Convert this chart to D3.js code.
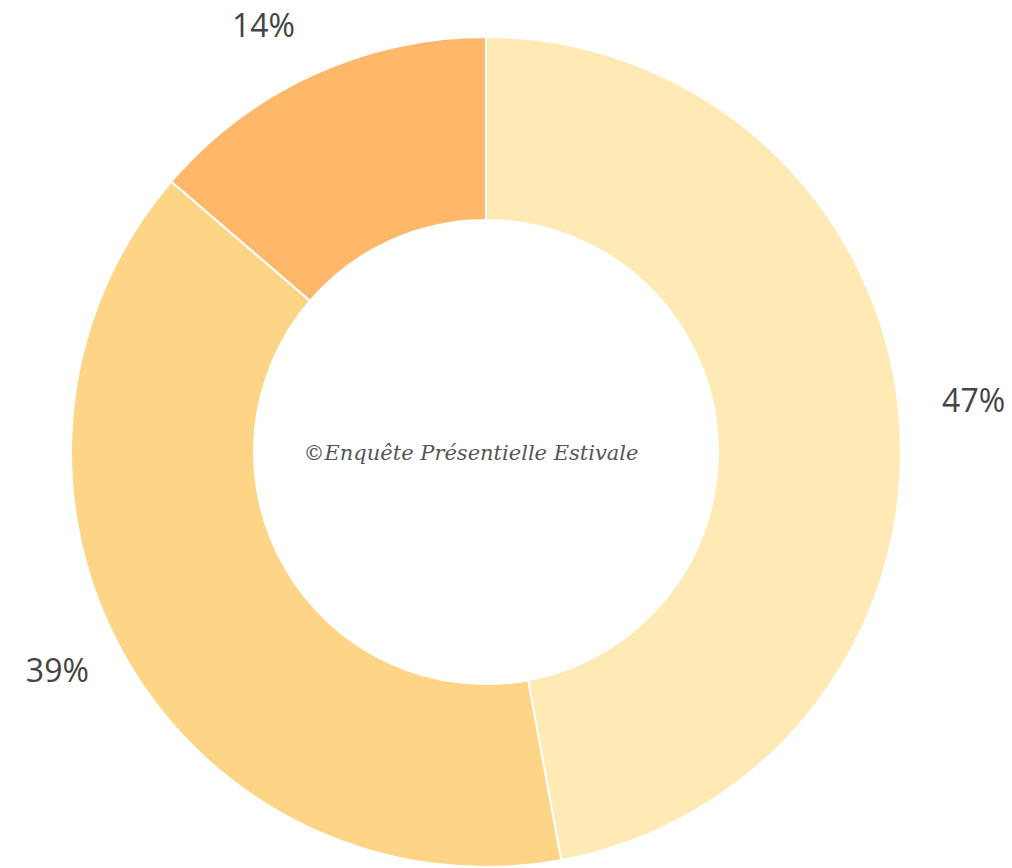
<!DOCTYPE html>
<html><head><meta charset="utf-8">
<script src="https://cdn.jsdelivr.net/npm/d3@7"></script>
<style>html,body{margin:0;padding:0;background:#fff;}</style>
</head><body>
<svg id="chart" width="1012" height="868"></svg>
<script>
const categories = ["A", "B", "C"];
const values = [47.1, 39.2, 13.7];
const labels = ["47%", "39%", "14%"];
const colors = ["#FFEAB5", "#FED586", "#FFB76A"];
const caption = "©Enquête Présentielle Estivale";

const svg = d3.select("#chart");
const cx = 486, cy = 452, R = 415, r0 = 232, gap = 43;
const g = svg.append("g").attr("transform", `translate(${cx},${cy})`);
const pie = d3.pie().sort(null).value(d => d)(values);
const arc = d3.arc().innerRadius(r0).outerRadius(R);
g.selectAll("path.slice").data(pie).join("path")
  .attr("class", "slice")
  .attr("d", arc)
  .attr("fill", (d, i) => colors[i])
  .attr("stroke", "#fff").attr("stroke-width", 2);

pie.forEach((d, i) => {
  const a = (d.startAngle + d.endAngle) / 2;
  const sx = Math.sin(a), sy = -Math.cos(a);
  const t = g.append("text")
    .attr("font-family", "'Open Sans', sans-serif")
    .attr("font-size", 32)
    .attr("fill", "#444")
    .attr("text-anchor", "middle")
    .attr("dominant-baseline", "central")
    .text(labels[i]);
  const bb = t.node().getBBox();
  const px = (R + gap) * sx + Math.sign(sx) * bb.width / 2;
  const py = (R + gap) * sy - 11;
  t.attr("x", px).attr("y", py);
});

g.append("text")
  .attr("font-family", "'DejaVu Serif', serif")
  .attr("font-style", "italic")
  .attr("font-size", 21)
  .attr("fill", "#555")
  .attr("text-anchor", "middle")
  .attr("dominant-baseline", "central")
  .attr("x", -15)
  .attr("y", 1)
  .text(caption);
</script>
</body></html>
